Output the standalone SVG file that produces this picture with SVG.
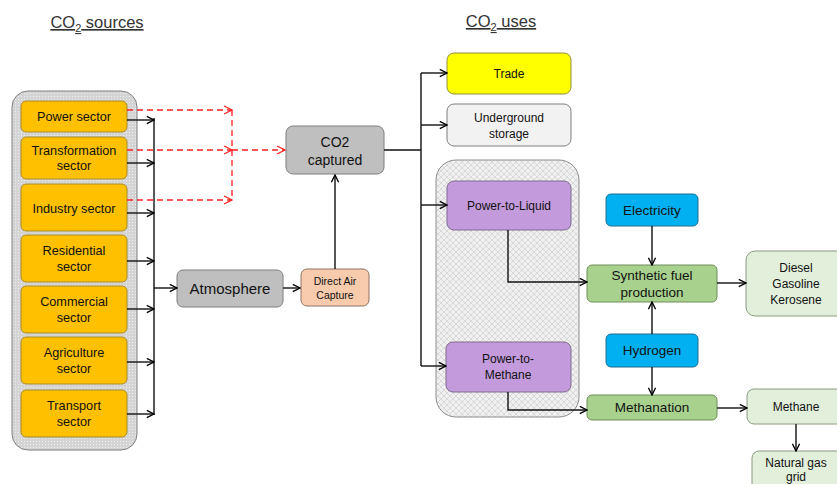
<svg xmlns="http://www.w3.org/2000/svg" width="837" height="484" viewBox="0 0 837 484">
<defs>
<pattern id="dots" width="3" height="3" patternUnits="userSpaceOnUse">
<rect width="3" height="3" fill="#D4D4D4"/>
<rect x="0" y="0" width="1" height="1" fill="#EDEDED"/>
</pattern>
<pattern id="hatch" width="6" height="6" patternUnits="userSpaceOnUse">
<rect width="6" height="6" fill="#F0F0F0"/>
<path d="M0,0 L6,6 M6,0 L0,6" stroke="#CFCFCF" stroke-width="0.7"/>
</pattern>
<marker id="ar" viewBox="0 0 10 10" refX="9" refY="5" markerWidth="9" markerHeight="9" markerUnits="userSpaceOnUse" orient="auto">
<path d="M1,1 L9,5 L1,9" fill="none" stroke="#000" stroke-width="1.5"/>
</marker>
<marker id="arr" viewBox="0 0 10 10" refX="9" refY="5" markerWidth="10" markerHeight="10" markerUnits="userSpaceOnUse" orient="auto">
<path d="M1,1 L9,5 L1,9" fill="none" stroke="#FF2020" stroke-width="1.3"/>
</marker>
</defs>
<style>
text{font-family:"Liberation Sans",Arial,sans-serif;fill:#111;text-anchor:middle}
.t{font-size:16.5px;fill:#333;text-decoration:underline}
.s{font-size:12.7px}
.src rect{fill:#FFC000;stroke:#A88A2A;stroke-width:1}
.gray rect{fill:#BFBFBF;stroke:#7F7F7F;stroke-width:1}
.pur rect{fill:#C39BDC;stroke:#7F6A8F;stroke-width:1}
.blu rect{fill:#00B0F0;stroke:#1F6F8F;stroke-width:1}
.grn rect{fill:#A9D18E;stroke:#6E8F5A;stroke-width:1}
.lg rect{fill:#E2EFDA;stroke:#8A9A80;stroke-width:1}
.c line,.c path{stroke:#111;stroke-width:1.4;fill:none}
.r line,.r path{stroke:#FF2020;stroke-width:1.3;stroke-dasharray:6,4;fill:none}
</style>
<text class="t" x="97" y="28">CO<tspan font-size="11" dy="4">2</tspan><tspan dy="-4"> sources</tspan></text>
<text class="t" x="501" y="27">CO<tspan font-size="11" dy="4">2</tspan><tspan dy="-4"> uses</tspan></text>

<g id="sources-group"><rect x="12" y="91" width="125" height="359" rx="16" fill="url(#dots)" stroke="#7F7F7F" stroke-width="1"/></g>
<g id="uses-group"><rect x="436" y="160" width="143" height="257" rx="20" fill="url(#hatch)" stroke="#8C8C8C" stroke-width="1"/></g>

<g id="power" class="src"><rect x="21" y="101" width="106" height="31" rx="5"/><text class="s" x="74" y="121">Power sector</text></g>
<g id="transformation" class="src"><rect x="21" y="137" width="106" height="42" rx="5"/><text class="s" x="74" y="155">Transformation</text><text class="s" x="74" y="170">sector</text></g>
<g id="industry" class="src"><rect x="21" y="184" width="106" height="47" rx="5"/><text class="s" x="74" y="213">Industry sector</text></g>
<g id="residential" class="src"><rect x="21" y="235" width="106" height="47" rx="5"/><text class="s" x="74" y="255">Residential</text><text class="s" x="74" y="271">sector</text></g>
<g id="commercial" class="src"><rect x="21" y="286" width="106" height="47" rx="5"/><text class="s" x="74" y="306">Commercial</text><text class="s" x="74" y="322">sector</text></g>
<g id="agriculture" class="src"><rect x="21" y="337" width="106" height="47" rx="5"/><text class="s" x="74" y="357">Agriculture</text><text class="s" x="74" y="373">sector</text></g>
<g id="transport" class="src"><rect x="21" y="390" width="106" height="47" rx="5"/><text class="s" x="74" y="410">Transport</text><text class="s" x="74" y="426">sector</text></g>

<g id="atmosphere" class="gray"><rect x="177" y="270" width="106" height="37" rx="6"/><text x="230" y="294" font-size="15">Atmosphere</text></g>
<g id="dac"><rect x="301" y="269" width="68" height="37" rx="6" fill="#F8CBAD" stroke="#8F7360"/><text x="335" y="285" font-size="10.5">Direct Air</text><text x="335" y="299" font-size="10.5">Capture</text></g>
<g id="co2captured" class="gray"><rect x="286" y="126" width="98" height="48" rx="7"/><text x="335" y="147" font-size="14">CO2</text><text x="335" y="165" font-size="14">captured</text></g>

<g id="trade"><rect x="447" y="53" width="124" height="41" rx="7" fill="#FFFF00" stroke="#8F8F40"/><text x="509" y="78" font-size="12">Trade</text></g>
<g id="underground"><rect x="447" y="104" width="124" height="42" rx="7" fill="#F2F2F2" stroke="#7F7F7F"/><text x="509" y="122" font-size="12">Underground</text><text x="509" y="138" font-size="12">storage</text></g>
<g id="ptl" class="pur"><rect x="447" y="181" width="124" height="49" rx="7"/><text x="509" y="210" font-size="12">Power-to-Liquid</text></g>
<g id="ptm" class="pur"><rect x="446" y="342" width="125" height="50" rx="7"/><text x="508" y="363" font-size="12">Power-to-</text><text x="508" y="379" font-size="12">Methane</text></g>

<g id="electricity" class="blu"><rect x="606" y="194" width="92" height="32" rx="5"/><text x="652" y="215" font-size="13.5">Electricity</text></g>
<g id="hydrogen" class="blu"><rect x="606" y="334" width="92" height="33" rx="5"/><text x="652" y="355" font-size="13.5">Hydrogen</text></g>
<g id="synthetic" class="grn"><rect x="587" y="265" width="130" height="37" rx="5"/><text x="652" y="280" font-size="13.5">Synthetic  fuel</text><text x="652" y="297" font-size="13.5">production</text></g>
<g id="methanation" class="grn"><rect x="587" y="395" width="130" height="25" rx="5"/><text x="652" y="412" font-size="13.5">Methanation</text></g>
<g id="diesel" class="lg"><rect x="746" y="251" width="100" height="65" rx="9"/><text x="796" y="272" font-size="12">Diesel</text><text x="796" y="288" font-size="12">Gasoline</text><text x="796" y="304" font-size="12">Kerosene</text></g>
<g id="methane" class="lg"><rect x="747" y="389" width="100" height="35" rx="7"/><text x="796" y="411" font-size="12">Methane</text></g>
<g id="natgas" class="lg"><rect x="752" y="451" width="100" height="45" rx="7"/><text x="796" y="467" font-size="12">Natural  gas</text><text x="796" y="481" font-size="12">grid</text></g>

<g id="connectors">
<g class="c">
<line x1="154" y1="118" x2="154" y2="415"/>
<line x1="127" y1="120" x2="154" y2="120" marker-end="url(#ar)"/>
<line x1="127" y1="163" x2="154" y2="163" marker-end="url(#ar)"/>
<line x1="127" y1="213" x2="154" y2="213" marker-end="url(#ar)"/>
<line x1="127" y1="261" x2="154" y2="261" marker-end="url(#ar)"/>
<line x1="127" y1="309" x2="154" y2="309" marker-end="url(#ar)"/>
<line x1="127" y1="362" x2="154" y2="362" marker-end="url(#ar)"/>
<line x1="127" y1="414" x2="154" y2="414" marker-end="url(#ar)"/>
<line x1="154" y1="288" x2="177" y2="288" marker-end="url(#ar)"/>
<line x1="283" y1="288" x2="300" y2="288" marker-end="url(#ar)"/>
<line x1="335" y1="269" x2="335" y2="175" marker-end="url(#ar)"/>
<line x1="384" y1="150" x2="421" y2="150"/>
<line x1="421" y1="73" x2="421" y2="366"/>
<line x1="421" y1="73" x2="447" y2="73" marker-end="url(#ar)"/>
<line x1="421" y1="125" x2="447" y2="125" marker-end="url(#ar)"/>
<line x1="421" y1="205" x2="447" y2="205" marker-end="url(#ar)"/>
<line x1="421" y1="366" x2="446" y2="366" marker-end="url(#ar)"/>
<path d="M508,230 V282 H587" marker-end="url(#ar)"/>
<path d="M508,392 V410 H587" marker-end="url(#ar)"/>
<line x1="652" y1="226" x2="652" y2="265" marker-end="url(#ar)"/>
<line x1="652" y1="334" x2="652" y2="302" marker-end="url(#ar)"/>
<line x1="652" y1="367" x2="652" y2="395" marker-end="url(#ar)"/>
<line x1="717" y1="283" x2="746" y2="283" marker-end="url(#ar)"/>
<line x1="717" y1="408" x2="747" y2="408" marker-end="url(#ar)"/>
<line x1="796" y1="424" x2="796" y2="451" marker-end="url(#ar)"/>
</g>
<g class="r">
<line x1="127" y1="110" x2="232" y2="110" marker-end="url(#arr)"/>
<line x1="127" y1="150" x2="232" y2="150" marker-end="url(#arr)"/>
<line x1="127" y1="200" x2="232" y2="200" marker-end="url(#arr)"/>
<line x1="232" y1="110" x2="232" y2="200"/>
<line x1="232" y1="150" x2="285" y2="150" marker-end="url(#arr)"/>
</g>
</g>
</svg>
